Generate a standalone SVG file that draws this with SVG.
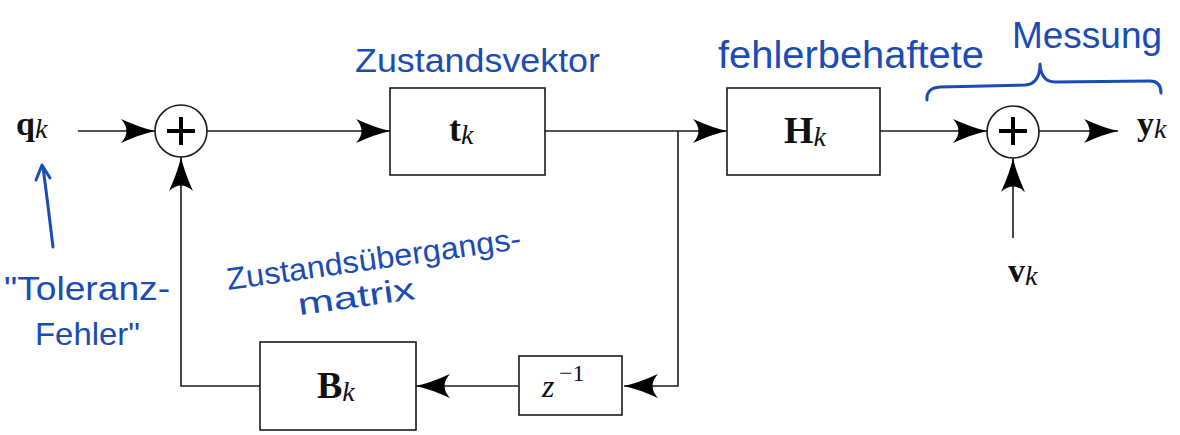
<svg xmlns="http://www.w3.org/2000/svg" width="1180" height="435" viewBox="0 0 1180 435">
<style>
.ln{fill:none;stroke:#1a1a1a;stroke-width:1.6}
.box{fill:#fff;stroke:#1a1a1a;stroke-width:1.6}
.sum{fill:#fff;stroke:#1a1a1a;stroke-width:1.6}
.plus{stroke:#000;stroke-width:4;fill:none}
.m{font-family:"Liberation Serif",serif;fill:#111}
.b{font-weight:bold}
.i{font-style:italic}
.hw{font-family:"Liberation Sans",Arial,sans-serif;fill:#1b4bb5}
.hl{fill:none;stroke:#1b4bb5;stroke-width:3;stroke-linecap:round;stroke-linejoin:round}
</style>
<defs>
<marker id="arr" viewBox="0 0 34 24" refX="34" refY="12" markerWidth="34" markerHeight="24" orient="auto" markerUnits="userSpaceOnUse">
<path d="M0,0 Q20,9 34,12 Q20,15 0,24 Q11,12 0,0 Z" fill="#000"/>
</marker>
</defs>
<rect width="1180" height="435" fill="#fff"/>
<g id="connectors">
<line class="ln" x1="78" y1="131" x2="155" y2="131" marker-end="url(#arr)"/>
<line class="ln" x1="207" y1="131" x2="390" y2="131" marker-end="url(#arr)"/>
<line class="ln" x1="545" y1="131" x2="727" y2="131" marker-end="url(#arr)"/>
<polyline class="ln" points="678,131 678,386 624,386" marker-end="url(#arr)"/>
<line class="ln" x1="518" y1="386" x2="416" y2="386" marker-end="url(#arr)"/>
<polyline class="ln" points="260,386 181,386 181,157" marker-end="url(#arr)"/>
<line class="ln" x1="880" y1="131" x2="987" y2="131" marker-end="url(#arr)"/>
<line class="ln" x1="1039" y1="131" x2="1118" y2="131" marker-end="url(#arr)"/>
<line class="ln" x1="1013" y1="238" x2="1013" y2="158" marker-end="url(#arr)"/>
</g>
<g id="q_k"><text class="m" x="16" y="135" font-size="34"><tspan class="b">q</tspan><tspan class="i" font-size="28" dy="3">k</tspan></text></g>
<g id="sum1"><circle class="sum" cx="181" cy="131" r="26"/><path class="plus" d="M167,131H195M181,117V145"/></g>
<g id="t_k"><rect class="box" x="390" y="88" width="155" height="87"/><text class="m" x="449" y="141" font-size="36"><tspan class="b">t</tspan><tspan class="i" font-size="28" dy="3">k</tspan></text></g>
<g id="H_k"><rect class="box" x="727" y="88" width="153" height="87"/><text class="m" x="784" y="143" font-size="38"><tspan class="b">H</tspan><tspan class="i" font-size="28" dy="3">k</tspan></text></g>
<g id="sum2"><circle class="sum" cx="1013" cy="132" r="26"/><path class="plus" d="M999,131H1027M1013,117V145"/></g>
<g id="y_k"><text class="m" x="1137" y="135" font-size="34"><tspan class="b">y</tspan><tspan class="i" font-size="28" dy="3">k</tspan></text></g>
<g id="v_k"><text class="m" x="1008" y="282" font-size="34"><tspan class="b">v</tspan><tspan class="i" font-size="28" dy="3">k</tspan></text></g>
<g id="z_inv"><rect class="box" x="519" y="356" width="103" height="59"/><text class="m i" x="542" y="397" font-size="32">z</text><text class="m" x="559" y="381" font-size="24">−1</text></g>
<g id="B_k"><rect class="box" x="260" y="342" width="156" height="88"/><text class="m" x="317" y="398" font-size="38"><tspan class="b">B</tspan><tspan class="i" font-size="28" dy="3">k</tspan></text></g>
<g id="annotations">
<text class="hw" x="355" y="72" font-size="34" textLength="245" lengthAdjust="spacingAndGlyphs">Zustandsvektor</text>
<text class="hw" x="718" y="68" font-size="38" textLength="266" lengthAdjust="spacingAndGlyphs">fehlerbehaftete</text>
<text class="hw" x="1012" y="48" font-size="36" textLength="150" lengthAdjust="spacingAndGlyphs">Messung</text>
<path class="hl" d="M927,100 Q926,88 940,87 L1025,85 Q1040,84 1040,64 Q1041,82 1055,82 L1150,81 Q1161,81 1161,93"/>
<path class="hl" d="M53,247 Q48,205 43,167 M36,180 L42,165 L50,178"/>
<text class="hw" x="4" y="300" font-size="34" textLength="166" lengthAdjust="spacingAndGlyphs">"Toleranz-</text>
<text class="hw" x="35" y="345" font-size="32" textLength="105" lengthAdjust="spacingAndGlyphs">Fehler"</text>
<g transform="rotate(-8 228 290)">
<text class="hw" x="228" y="290" font-size="31" textLength="297" lengthAdjust="spacingAndGlyphs">Zustandsübergangs-</text>
<text class="hw" x="295" y="325" font-size="31" textLength="118" lengthAdjust="spacingAndGlyphs">matrix</text>
</g>
</g>
</svg>
